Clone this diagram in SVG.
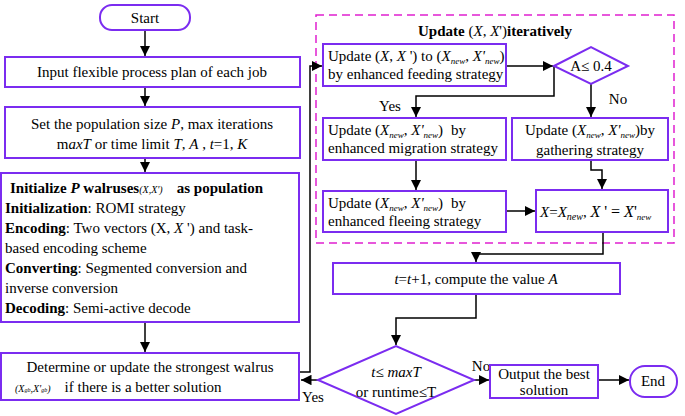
<svg xmlns="http://www.w3.org/2000/svg" width="685" height="416" viewBox="0 0 685 416">
<defs><marker id="a" viewBox="0 0 10 10" refX="10" refY="5" markerWidth="7" markerHeight="7" orient="auto"><path d="M0,0L10,5L0,10z" fill="#000"/></marker></defs>
<style>
.b{fill:#fff;stroke:#7b2cf0;stroke-width:2}
.c{fill:none;stroke:#000;stroke-width:1.5;marker-end:url(#a)}
text{font-family:'Liberation Serif','Tinos','Times New Roman','DejaVu Serif',serif;font-size:15px;fill:#000}
.m{text-anchor:middle}
.i{font-style:italic}
.s{font-size:9px;font-style:italic}
</style>
<rect width="685" height="416" fill="#fff"/>
<rect x="316" y="15" width="358" height="228" fill="none" stroke="#e020d0" stroke-width="1.5" stroke-dasharray="8,5"/>
<text x="495" y="36" class="m"><tspan font-weight="bold">Update</tspan> (<tspan class="i">X</tspan>, <tspan class="i">X</tspan>')<tspan font-weight="bold">iteratively</tspan></text>
<g id="connectors">
<path class="c" d="M145,30V56"/>
<path class="c" d="M145,87V106"/>
<path class="c" d="M145,158V172"/>
<path class="c" d="M145,322V352"/>
<path class="c" d="M299,372H310V66H322"/>
<path class="c" d="M506,66H553"/>
<path class="c" d="M554,66V96H416V117"/>
<path class="c" d="M591,84V117"/>
<path class="c" d="M416,160V190"/>
<path class="c" d="M591,160V170H602V189"/>
<path class="c" d="M506,211H535"/>
<path class="c" d="M603,232V254H476V262"/>
<path class="c" d="M476,294V318H396V345"/>
<path class="c" d="M474,380H489"/>
<path class="c" d="M598,380H629"/>
<path class="c" d="M318,380H301"/>
<text x="390" y="111" class="m">Yes</text>
<text x="618" y="104" class="m">No</text>
<text x="481" y="371" class="m">No</text>
<text x="313" y="402" class="m">Yes</text>
</g>
<g id="start"><rect class="b" x="100" y="5" width="90" height="25" rx="12"/><text x="145" y="23" class="m">Start</text></g>
<g id="input"><rect class="b" x="5" y="57" width="295" height="30"/><text x="152" y="77" class="m">Input flexible process plan of each job</text></g>
<g id="set"><rect class="b" x="5" y="107" width="295" height="51"/><text x="152" y="129" class="m">Set the population size <tspan class="i">P</tspan>, max iterations</text><text x="152" y="149" class="m">m<tspan class="i">axT</tspan> or time limit <tspan class="i">T</tspan>, <tspan class="i">A</tspan> , <tspan class="i">t</tspan>=1, <tspan class="i">K</tspan></text></g>
<g id="init"><rect class="b" x="1" y="173" width="298" height="149"/>
<text x="10" y="193" font-weight="bold">Initialize <tspan class="i">P</tspan> walruses<tspan font-weight="normal" font-size="10" font-style="italic">(X,X')</tspan><tspan dx="14">as population</tspan></text>
<text x="5" y="213"><tspan font-weight="bold">Initialization</tspan>: ROMI strategy</text>
<text x="5" y="233"><tspan font-weight="bold">Encoding</tspan>: Two vectors (X, <tspan class="i">X</tspan> ') and task-</text>
<text x="5" y="253">based encoding scheme</text>
<text x="5" y="273"><tspan font-weight="bold">Converting</tspan>: Segmented conversion and</text>
<text x="5" y="293">inverse conversion</text>
<text x="5" y="313"><tspan font-weight="bold">Decoding</tspan>: Semi-active decode</text></g>
<g id="determine"><rect class="b" x="1" y="353" width="298" height="47"/><text x="150" y="372" class="m">Determine or update the strongest walrus</text><text x="15" y="392"><tspan font-size="10" font-style="italic">(X<tspan font-size="6">gb</tspan>,X'<tspan font-size="6">gb</tspan>)</tspan><tspan dx="14">if there is a better solution</tspan></text></g>
<g id="feed"><rect class="b" x="323" y="44" width="183" height="42"/><text x="328" y="61">Update (<tspan class="i">X</tspan>, <tspan class="i">X</tspan> ') to (<tspan class="i">X<tspan class="s" dy="3">new</tspan></tspan><tspan dy="-3">, </tspan><tspan class="i">X'<tspan class="s" dy="3">new</tspan></tspan><tspan dy="-3">)</tspan></text><text x="328" y="79">by enhanced feeding strategy</text></g>
<g id="cond"><path class="b" d="M554,66L591,47L628,66L591,84z"/><text x="591" y="71" class="m">A≤ 0.4</text></g>
<g id="migr"><rect class="b" x="323" y="118" width="183" height="42"/><text x="328" y="135">Update  (<tspan class="i">X<tspan class="s" dy="3">new</tspan></tspan><tspan dy="-3">, </tspan><tspan class="i">X'<tspan class="s" dy="3">new</tspan></tspan><tspan dy="-3">)</tspan><tspan dx="8">by</tspan></text><text x="328" y="153">enhanced migration strategy</text></g>
<g id="gath"><rect class="b" x="512" y="118" width="156" height="42"/><text x="590" y="135" class="m">Update (<tspan class="i">X<tspan class="s" dy="3">new</tspan></tspan><tspan dy="-3">, </tspan><tspan class="i">X'<tspan class="s" dy="3">new</tspan></tspan><tspan dy="-3">)by</tspan></text><text x="590" y="155" class="m">gathering strategy</text></g>
<g id="flee"><rect class="b" x="323" y="191" width="183" height="41"/><text x="328" y="208">Update  (<tspan class="i">X<tspan class="s" dy="3">new</tspan></tspan><tspan dy="-3">, </tspan><tspan class="i">X'<tspan class="s" dy="3">new</tspan></tspan><tspan dy="-3">)</tspan><tspan dx="8">by</tspan></text><text x="328" y="226">enhanced fleeing strategy</text></g>
<g id="assign"><rect class="b" x="536" y="190" width="132" height="42"/><text x="540" y="217"><tspan class="i">X</tspan>=<tspan class="i">X<tspan font-size="10" dy="3">new</tspan></tspan><tspan dy="-3">, </tspan><tspan font-size="16"><tspan class="i">X</tspan> ' = <tspan class="i">X</tspan>'</tspan><tspan class="s" dy="3">new</tspan></text></g>
<g id="inc"><rect class="b" x="333" y="263" width="287" height="31"/><text x="476" y="284" class="m"><tspan class="i">t</tspan>=<tspan class="i">t</tspan>+1, compute the value <tspan class="i">A</tspan></text></g>
<g id="loop"><path class="b" d="M318,380L396,346L474,380L396,414z"/><text x="396" y="377" class="m"><tspan class="i">t</tspan>≤ <tspan class="i">maxT</tspan></text><text x="396" y="397" class="m">or runtime≤T</text></g>
<g id="output"><rect class="b" x="490" y="365" width="108" height="33"/><text x="544" y="379" class="m">Output the best</text><text x="544" y="395" class="m">solution</text></g>
<g id="end"><rect class="b" x="630" y="366" width="47" height="31" rx="15"/><text x="653" y="386" class="m">End</text></g>
</svg>
